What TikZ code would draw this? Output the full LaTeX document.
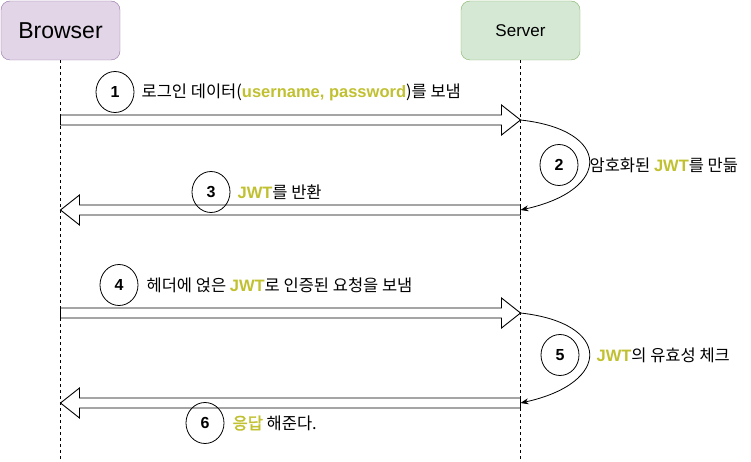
\documentclass[tikz,border=0pt]{standalone}
\usepackage{fontspec}
\setmainfont{Liberation Sans}
\newfontfamily\kr[AutoFakeBold=2]{Noto Sans CJK KR}
\usetikzlibrary{positioning,calc,arrows.meta,shapes.geometric}

\definecolor{brfill}{RGB}{225,213,231}
\definecolor{brdraw}{RGB}{150,115,166}
\definecolor{svfill}{RGB}{213,232,212}
\definecolor{svdraw}{RGB}{130,179,102}
\definecolor{jwtcol}{RGB}{192,192,48}

\newcommand{\hl}[1]{{\rmfamily\bfseries\color{jwtcol}#1}}
\newcommand{\hlk}[1]{{\bfseries\color{jwtcol}#1}}

\begin{document}
\begin{tikzpicture}[x=1pt,y=-1pt,
  actor/.style={draw,rounded corners=9pt,minimum width=119pt,minimum height=59pt,inner sep=0pt},
  lifeline/.style={dash pattern=on 3pt off 3pt,line width=0.6pt},
  blockarrow/.style={draw,fill=white,line width=0.9pt,line join=miter},
  curvearrow/.style={line width=0.8pt,-{Stealth[length=8pt,width=6pt]}},
  num/.style={draw,ellipse,minimum width=38pt,minimum height=41pt,inner sep=0pt,font=\fontsize{16}{18}\selectfont\bfseries,line width=0.8pt},
  lbl/.style={anchor=west,inner sep=0pt,font=\kr\fontsize{16.5}{19}\selectfont}]

  \useasboundingbox (0,0) rectangle (751,462);

  % actors
  \node[actor,fill=brfill,draw=brdraw,font=\fontsize{23}{26}\selectfont] (browser) at (60.5,30.5) {Browser};
  \node[actor,fill=svfill,draw=svdraw,font=\fontsize{17}{20}\selectfont] (server) at (520.5,30.5) {Server};

  \coordinate (bend) at (60.5,462);
  \coordinate (send) at (520.5,462);
  \draw[lifeline] (browser) -- (bend);
  \draw[lifeline] (server) -- (send);

  % message points on the lifelines
  \coordinate (b1) at (60.5,120);
  \coordinate (s1) at (520.5,120);
  \coordinate (b3) at (60.5,210);
  \coordinate (s3) at (520.5,210);
  \coordinate (b4) at (60.5,313);
  \coordinate (s4) at (520.5,313);
  \coordinate (b6) at (60.5,403);
  \coordinate (s6) at (520.5,403);

  % 1
  \draw[blockarrow] ($(b1)+(0,-5)$) -- ($(s1)+(-19,-5)$) -- ($(s1)+(-19,-15)$) -- (s1)
    -- ($(s1)+(-19,15)$) -- ($(s1)+(-19,5)$) -- ($(b1)+(0,5)$) -- cycle;
  \node[num] (c1) at (115,92) {1};
  \node[lbl,right=7pt of c1] (t1) {로그인 데이터(\hl{username, password})를 보냄};

  % 2
  \draw[curvearrow] (s1) .. controls (612,130) and (612,190) .. (s3);
  \node[num] (c2) at (559,165) {2};
  \node[lbl,right=11pt of c2] (t2) {암호화된 \hl{JWT}를 만듦};

  % 3
  \draw[blockarrow] ($(s3)+(0,-5)$) -- ($(b3)+(19,-5)$) -- ($(b3)+(19,-15)$) -- (b3)
    -- ($(b3)+(19,15)$) -- ($(b3)+(19,5)$) -- ($(s3)+(0,5)$) -- cycle;
  \node[num] (c3) at (211,192) {3};
  \node[lbl,right=7pt of c3] (t3) {\hl{JWT}를 반환};

  % 4
  \draw[blockarrow] ($(b4)+(0,-5)$) -- ($(s4)+(-19,-5)$) -- ($(s4)+(-19,-15)$) -- (s4)
    -- ($(s4)+(-19,15)$) -- ($(s4)+(-19,5)$) -- ($(b4)+(0,5)$) -- cycle;
  \node[num] (c4) at (119,285) {4};
  \node[lbl,right=8pt of c4] (t4) {헤더에 얹은 \hl{JWT}로 인증된 요청을 보냄};

  % 5
  \draw[curvearrow] (s4) .. controls (612,323) and (612,383) .. (s6);
  \node[num] (c5) at (560,355) {5};
  \node[lbl,right=17pt of c5] (t5) {\hl{JWT}의 유효성 체크};

  % 6
  \draw[blockarrow] ($(s6)+(0,-5)$) -- ($(b6)+(19,-5)$) -- ($(b6)+(19,-15)$) -- (b6)
    -- ($(b6)+(19,15)$) -- ($(b6)+(19,5)$) -- ($(s6)+(0,5)$) -- cycle;
  \node[num] (c6) at (205,423) {6};
  \node[lbl,right=8pt of c6] (t6) {\hlk{응답} 해준다.};
\end{tikzpicture}
\end{document}
